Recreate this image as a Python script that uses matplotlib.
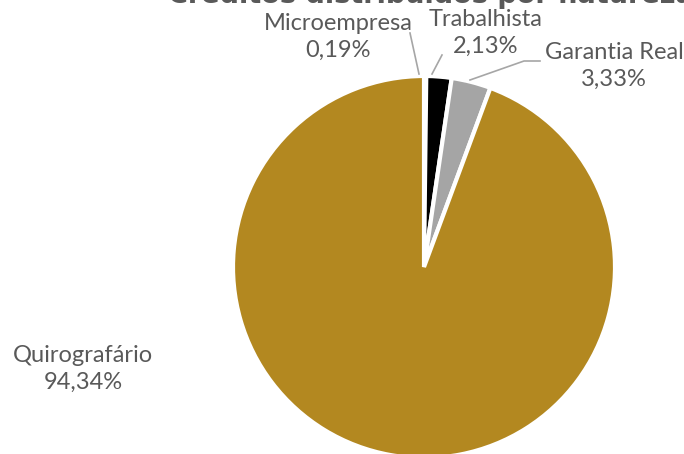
import matplotlib
matplotlib.use("Agg")
import matplotlib.pyplot as plt

W, H = 684, 454
categories = ["Microempresa", "Trabalhista", "Garantia Real", "Quirografário"]
values = [0.19, 2.13, 3.33, 94.34]
pct_labels = ["0,19%", "2,13%", "3,33%", "94,34%"]
colors = ["#FFFFFF", "#000000", "#A5A5A5", "#B38820"]
title = "Créditos distribuídos por natureza"

plt.rcParams['font.family'] = ['Lato', 'DejaVu Sans']
TXT = "#595959"

fig = plt.figure(figsize=(W / 100, H / 100), dpi=100)
ax = fig.add_axes([0, 0, 1, 1])

def P(x, y):
    return (x, H - y)

cx, cy = P(424, 267)
ax.pie(values, colors=colors, startangle=90, counterclock=False,
       center=(cx, cy), radius=191, frame=True,
       wedgeprops=dict(edgecolor='white', linewidth=3))
ax.set_xlim(0, W)
ax.set_ylim(0, H)
ax.set_aspect('equal')
ax.axis('off')

label_pos = [P(338, 37), P(486, 33), P(614, 66), P(83, 369)]
for name, pct, pos in zip(categories, pct_labels, label_pos):
    ax.text(pos[0], pos[1], f"{name}\n{pct}", ha='center', va='center',
            fontsize=17, color=TXT, linespacing=1.35)

leaders = [
    [P(410, 33), P(419, 74)],
    [P(442, 55), P(432, 74)],
    [P(540, 61), P(524, 61), P(470, 80)],
]
for pts in leaders:
    xs = [p[0] for p in pts]
    ys = [p[1] for p in pts]
    ax.plot(xs, ys, color="#A6A6A6", lw=1.2)

ax.text(168, H - 3, title, ha='left', va='baseline', fontsize=19.5,
        fontweight='bold', color=TXT, family='DejaVu Sans')

fig.savefig("out.png", dpi=100)
